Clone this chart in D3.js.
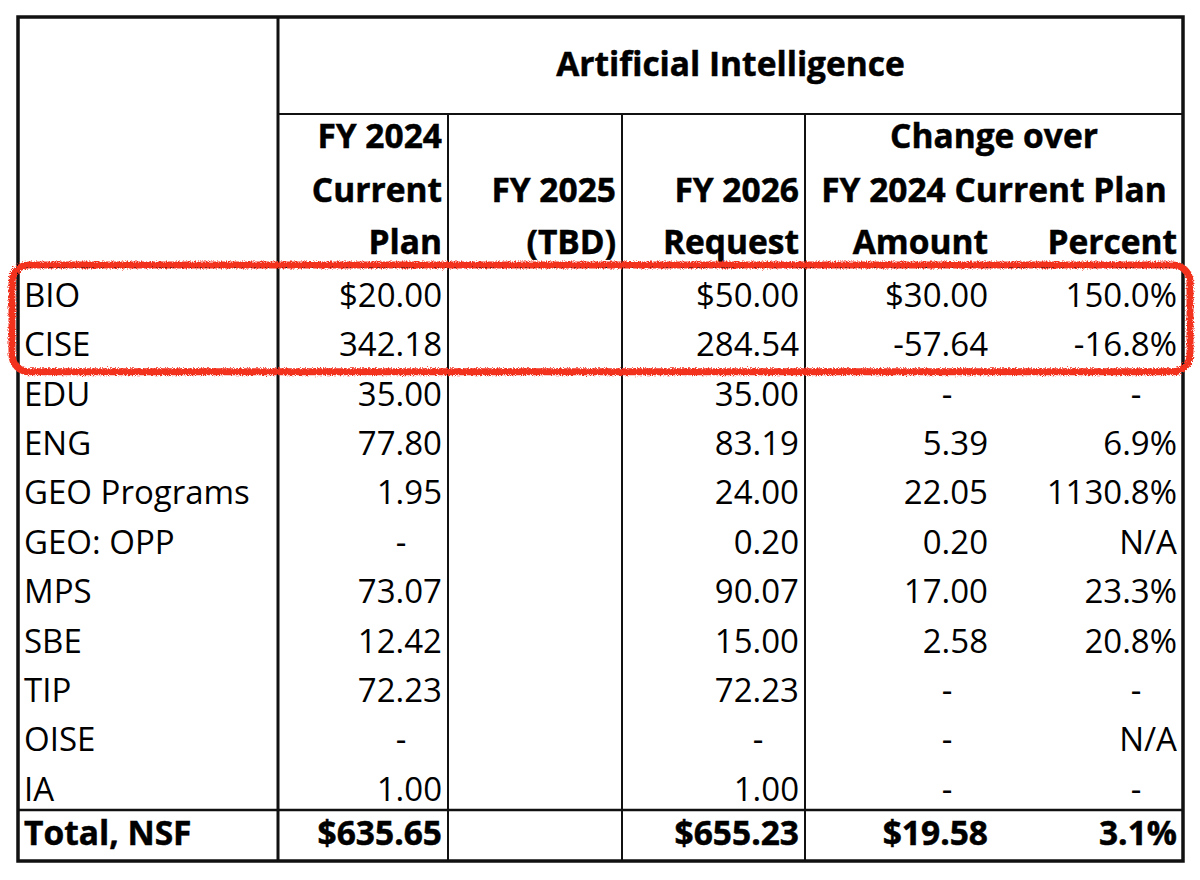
<!DOCTYPE html>
<html>
<head>
<meta charset="utf-8">
<script src="https://cdn.jsdelivr.net/npm/d3@7"></script>
<style>
  body { margin: 0; background: #fff; }
  svg { display: block; font-family: "Open Sans", sans-serif; }
  .bold { font-weight: 700; stroke: #000; stroke-width: 0.5; }
</style>
</head>
<body>
<div id="chart"></div>
<script>
// Table data
const divisions = ["BIO", "CISE", "EDU", "ENG", "GEO Programs", "GEO: OPP", "MPS", "SBE", "TIP", "OISE", "IA"];
const fy2024Plan = ["$20.00", "342.18", "35.00", "77.80", "1.95", "-", "73.07", "12.42", "72.23", "-", "1.00"];
const fy2025 = ["", "", "", "", "", "", "", "", "", "", ""];
const fy2026Request = ["$50.00", "284.54", "35.00", "83.19", "24.00", "0.20", "90.07", "15.00", "72.23", "-", "1.00"];
const changeAmount = ["$30.00", "-57.64", "-", "5.39", "22.05", "0.20", "17.00", "2.58", "-", "-", "-"];
const changePercent = ["150.0%", "-16.8%", "-", "6.9%", "1130.8%", "N/A", "23.3%", "20.8%", "-", "N/A", "-"];
const totalRow = ["Total, NSF", "$635.65", "", "$655.23", "$19.58", "3.1%"];
const title = "Artificial Intelligence";
const colHeaders = [
    [],
    ["FY 2024", "Current", "Plan"],
    ["", "FY 2025", "(TBD)"],
    ["", "FY 2026", "Request"],
    ["", "", "Amount"],
    ["", "", "Percent"]
];
const groupHeader = ["Change over", "FY 2024 Current Plan"];
const highlighted = ["BIO", "CISE"];

// Layout
const W = 1200, H = 880;
const tLeft = 18, tRight = 1183, tTop = 17, titleBottom = 114, headBottom = 267, totalTop = 810, tBottom = 861;
const colRight = [278, 448, 622, 805, 994, 1183]; // right edge of each column
const pad = 6;
const bodySize = 33, headSize = 33.5;

const svg = d3.select("#chart")
    .append("svg")
    .attr("width", W)
    .attr("height", H);

// rough pen filter for the red highlight
const defs = svg.append("defs");
const f = defs.append("filter").attr("id", "rough").attr("x", "-5%").attr("y", "-20%").attr("width", "110%").attr("height", "140%");
f.append("feTurbulence").attr("type", "fractalNoise").attr("baseFrequency", 0.8).attr("numOctaves", 2).attr("result", "noise");
f.append("feDisplacementMap").attr("in", "SourceGraphic").attr("in2", "noise").attr("scale", 5);

const y = d3.scaleBand()
    .domain(divisions)
    .range([headBottom, totalTop]);

const columns = [divisions, fy2024Plan, fy2025, fy2026Request, changeAmount, changePercent];

// body cells
const cells = [];
columns.forEach((col, ci) => {
    col.forEach((v, ri) => cells.push({ ci, row: divisions[ri], v }));
});

function cellX(d) {
    if (d.ci === 0) return tLeft + 6;
    const r = colRight[d.ci] - pad;
    return d.v === "-" ? r - 41 : r;
}
function cellAnchor(d) {
    if (d.ci === 0) return "start";
    return d.v === "-" ? "middle" : "end";
}

svg.append("g")
    .selectAll("text")
    .data(cells)
    .join("text")
    .attr("x", cellX)
    .attr("y", d => y(d.row) + 40)
    .attr("text-anchor", cellAnchor)
    .attr("font-size", bodySize)
    .attr("fill", "#000")
    .text(d => d.v);

// total row
svg.append("g")
    .selectAll("text")
    .data(totalRow.map((v, ci) => ({ ci, v })))
    .join("text")
    .attr("class", "bold")
    .attr("x", cellX)
    .attr("y", totalTop + 35)
    .attr("text-anchor", cellAnchor)
    .attr("font-size", headSize)
    .attr("fill", "#000")
    .text(d => d.v);

// header
const headLines = [148, 202, 254];
const headCells = [];
colHeaders.forEach((lines, ci) => lines.forEach((v, li) => { if (v) headCells.push({ ci, li, v }); }));
svg.append("g")
    .selectAll("text")
    .data(headCells)
    .join("text")
    .attr("class", "bold")
    .attr("x", d => colRight[d.ci] - pad)
    .attr("y", d => headLines[d.li])
    .attr("text-anchor", "end")
    .attr("font-size", headSize)
    .attr("fill", "#000")
    .text(d => d.v);

svg.append("g")
    .selectAll("text")
    .data(groupHeader)
    .join("text")
    .attr("class", "bold")
    .attr("x", (colRight[3] + tRight) / 2)
    .attr("y", (d, i) => headLines[i])
    .attr("text-anchor", "middle")
    .attr("font-size", headSize)
    .attr("fill", "#000")
    .text(d => d);

svg.append("text")
    .attr("class", "bold")
    .attr("x", (colRight[0] + tRight) / 2)
    .attr("y", 76)
    .attr("text-anchor", "middle")
    .attr("font-size", headSize)
    .attr("fill", "#000")
    .text(title);

// grid lines
const grid = svg.append("g").attr("stroke", "#111").attr("fill", "none");
grid.append("line").attr("x1", colRight[0]).attr("x2", tRight).attr("y1", titleBottom).attr("y2", titleBottom).attr("stroke-width", 2);
grid.append("line").attr("x1", tLeft).attr("x2", tRight).attr("y1", headBottom).attr("y2", headBottom).attr("stroke-width", 2);
grid.append("line").attr("x1", tLeft).attr("x2", tRight).attr("y1", totalTop).attr("y2", totalTop).attr("stroke-width", 2.5);
grid.append("line").attr("x1", colRight[0]).attr("x2", colRight[0]).attr("y1", tTop).attr("y2", tBottom).attr("stroke-width", 3);
[1, 2, 3].forEach(i => {
    grid.append("line").attr("x1", colRight[i]).attr("x2", colRight[i]).attr("y1", titleBottom).attr("y2", tBottom).attr("stroke-width", 2);
});
grid.append("rect")
    .attr("x", tLeft).attr("y", tTop)
    .attr("width", tRight - tLeft).attr("height", tBottom - tTop)
    .attr("stroke-width", 3.5);

// red highlight around first rows
const hTop = y(highlighted[0]) - 2;
const hBottom = y(highlighted[highlighted.length - 1]) + y.bandwidth() + 6;
svg.append("rect")
    .attr("x", 12).attr("y", hTop)
    .attr("width", 1190 - 12).attr("height", hBottom - hTop)
    .attr("rx", 17).attr("ry", 17)
    .attr("fill", "none")
    .attr("stroke", "#f2321f")
    .attr("stroke-width", 7)
    .attr("filter", "url(#rough)");
</script>
</body>
</html>
